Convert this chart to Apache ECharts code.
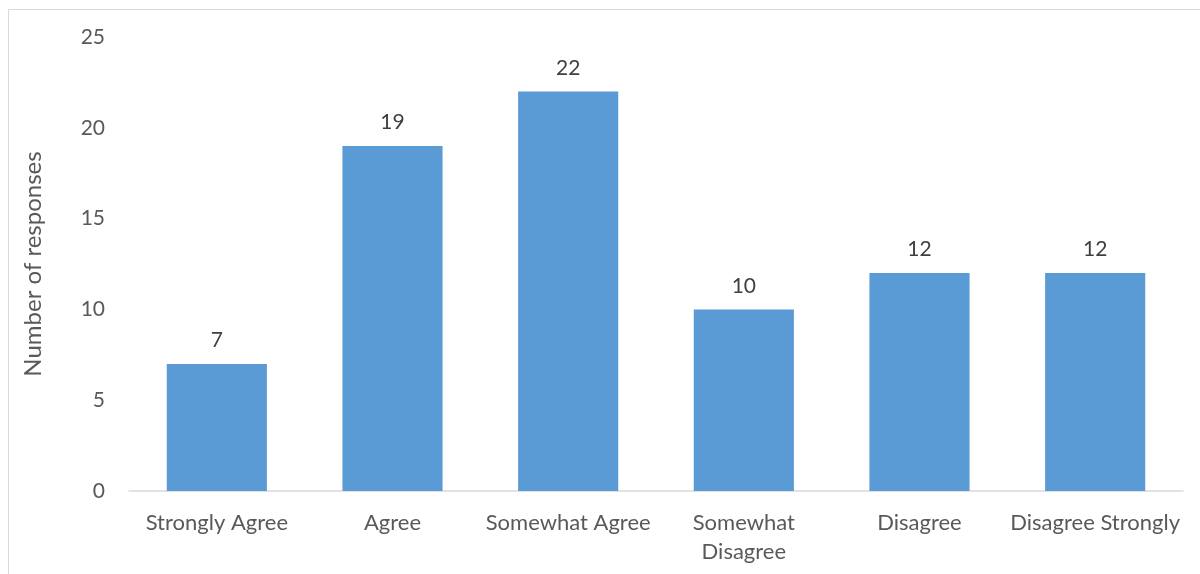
<!DOCTYPE html>
<html><head><meta charset="utf-8">
<script src="https://cdn.jsdelivr.net/npm/echarts@6/dist/echarts.min.js"></script>
<style>html,body{margin:0;padding:0;background:#fff}#c{width:1200px;height:574px}</style>
</head><body><div id="c"></div>
<script>
const categories = ['Strongly Agree','Agree','Somewhat Agree','Somewhat\nDisagree','Disagree','Disagree Strongly'];
const values = [7,19,22,10,12,12];
const yTicks = {min:0,max:25,interval:5};
const yTitle = 'Number of responses';
const font = 'Lato';
const chart = echarts.init(document.getElementById('c'));
chart.setOption({
  animation:false,
  graphic:[{type:'rect',shape:{x:8.5,y:9.5,width:1300,height:700},style:{fill:'none',stroke:'#d9d9d9',lineWidth:1}}],
  grid:{left:129,right:17,top:37,bottom:83},
  xAxis:{type:'category',data:categories,
    axisLine:{lineStyle:{color:'#d9d9d9',width:1.5}},axisTick:{show:false},
    axisLabel:{color:'#595959',fontFamily:font,fontSize:22,margin:17,lineHeight:29,interval:0}},
  yAxis:{type:'value',min:yTicks.min,max:yTicks.max,interval:yTicks.interval,
    name:yTitle,nameLocation:'middle',nameGap:84,nameTextStyle:{color:'#595959',fontFamily:font,fontSize:24},
    axisLine:{show:false},axisTick:{show:false},splitLine:{show:false},
    axisLabel:{color:'#595959',fontFamily:font,fontSize:21,margin:24}},
  series:[{type:'bar',data:values,barWidth:'57%',itemStyle:{color:'#5B9BD5'},
    label:{show:true,position:'top',distance:13,color:'#404040',fontFamily:font,fontSize:21}}]
});
</script></body></html>
